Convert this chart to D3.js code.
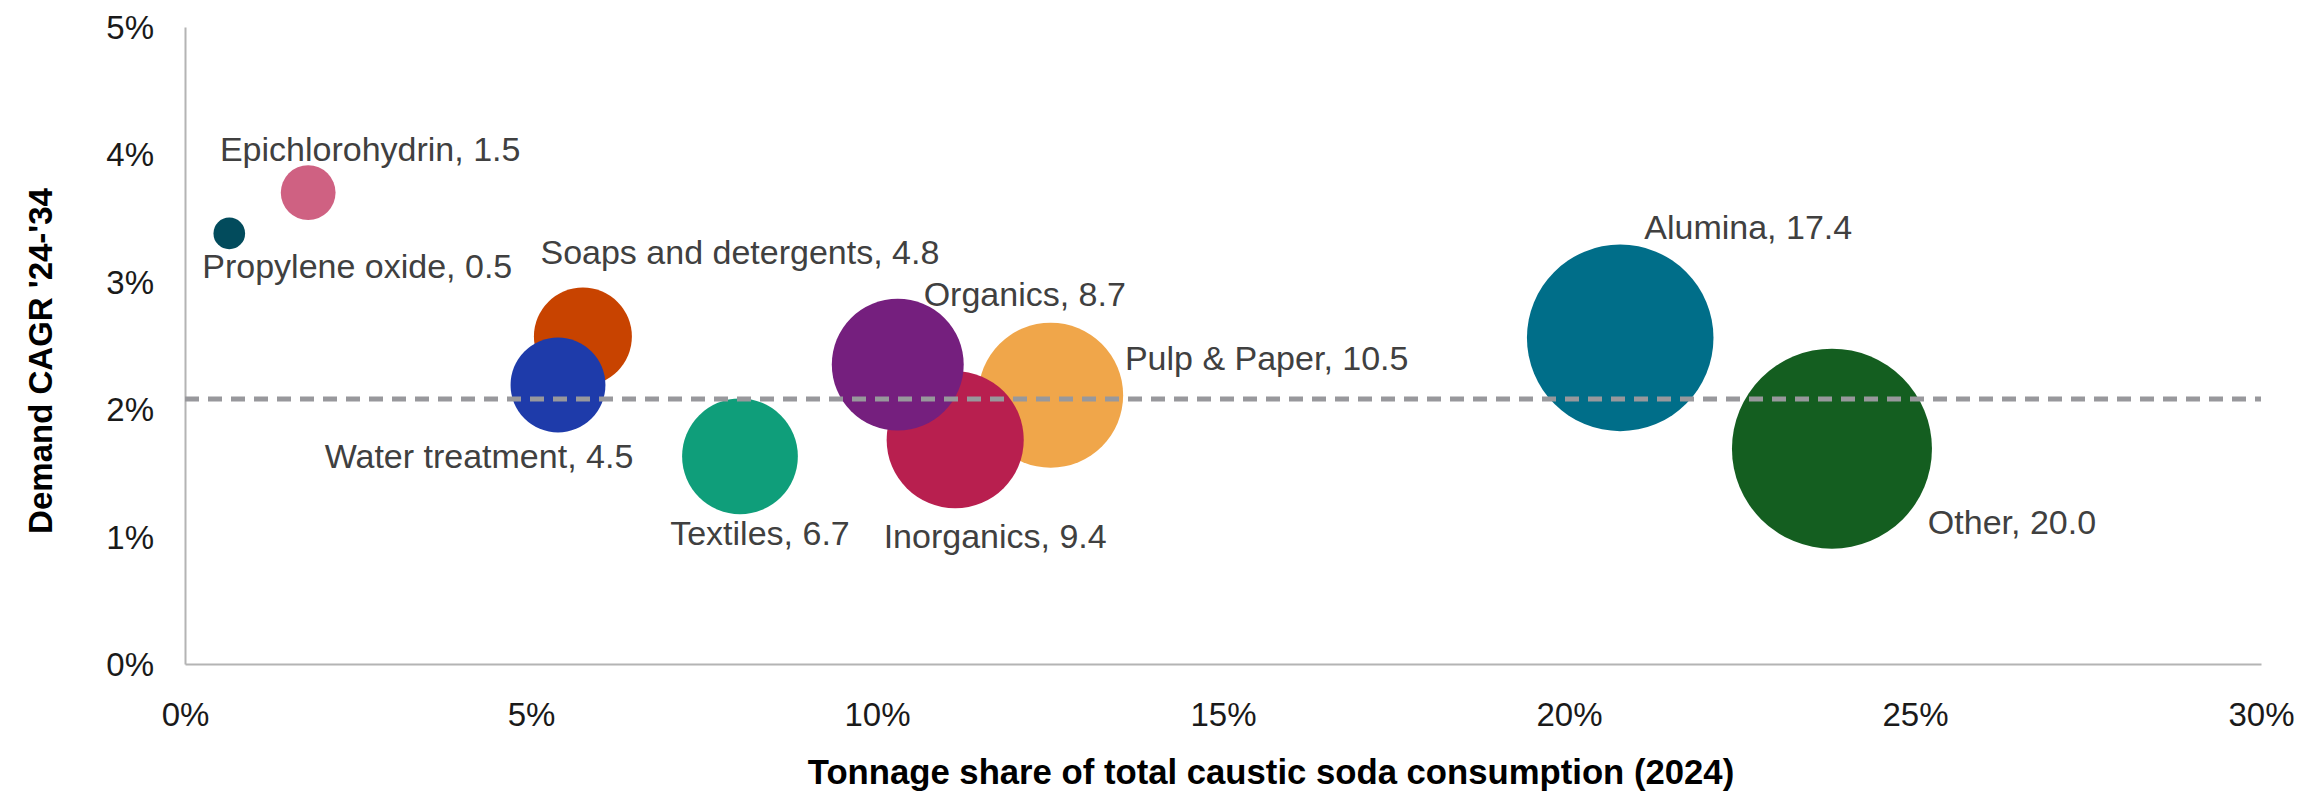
<!DOCTYPE html>
<html>
<head>
<meta charset="utf-8">
<script src="https://cdn.jsdelivr.net/npm/d3@7"></script>
<style>
  html, body { margin: 0; padding: 0; background: #ffffff; }
  svg { display: block; font-family: "Liberation Sans", Arial, sans-serif; }
</style>
</head>
<body>
<svg id="chart" width="2320" height="795"></svg>
<script>
// End uses of caustic soda: share of 2024 tonnage vs. demand growth 2024-34
const segments   = ["Other", "Alumina", "Pulp & Paper", "Inorganics", "Organics", "Textiles", "Soaps and detergents", "Water treatment", "Epichlorohydrin", "Propylene oxide"];
const shareX     = [23.80, 20.74, 12.51, 11.13, 10.30, 8.02, 5.75, 5.39, 1.78, 0.64];   // % of total consumption
const cagrY      = [1.69, 2.56, 2.11, 1.76, 2.35, 1.63, 2.57, 2.19, 3.70, 3.38];        // % per year
const bubbleSize = [20.0, 17.4, 10.5, 9.4, 8.7, 6.7, 4.8, 4.5, 1.5, 0.5];
const colors     = ["#145e20", "#006e89", "#f0a64a", "#b81f4f", "#751f7e", "#0f9e7a", "#c84300", "#1e3baa", "#cf6182", "#024b5c"];
const averageCagr = 2.08;

const xTicks = [0, 5, 10, 15, 20, 25, 30];
const yTicks = [0, 1, 2, 3, 4, 5];

// label placement relative to each bubble centre (px)
const labelDx = [180, 128, 216, 40, 127, 20, 157, -79, 62, 128];
const labelDy = [73, -111, -37, 96, -71, 77, -85, 71, -44, 33];

const svg = d3.select("#chart");
const x = d3.scaleLinear().domain([0, 30]).range([185, 2261]);
const y = d3.scaleLinear().domain([0, 5]).range([664, 27]);
const r = d3.scaleSqrt().domain([0, 20]).range([0, 100]);

// axes
const xAxis = svg.append("g").attr("transform", `translate(0,${y(0)})`)
  .call(d3.axisBottom(x).tickValues(xTicks).tickSize(0).tickPadding(39).tickFormat(d => d + "%"));
const yAxis = svg.append("g").attr("transform", `translate(${x(0)},0)`)
  .call(d3.axisLeft(y).tickValues(yTicks).tickSize(0).tickPadding(31).tickFormat(d => d + "%"));
[xAxis, yAxis].forEach(g => {
  g.select(".domain").attr("stroke", "#b4b4b4").attr("stroke-width", 2);
  g.selectAll("text").attr("font-size", 33).attr("fill", "#1a1a1a")
    .attr("font-family", "'Liberation Sans', Arial, sans-serif");
});
yAxis.selectAll("text").attr("dy", "0.35em");

// bubbles, largest drawn first
const data = segments.map((s, i) => ({ s, x: shareX[i], y: cagrY[i], v: bubbleSize[i], c: colors[i], dx: labelDx[i], dy: labelDy[i] }));
svg.append("g").selectAll("circle").data(data).join("circle")
  .attr("cx", d => x(d.x)).attr("cy", d => y(d.y)).attr("r", d => r(d.v))
  .attr("fill", d => d.c);

// average growth reference line
svg.append("line")
  .attr("x1", x(0)).attr("x2", x(30))
  .attr("y1", y(averageCagr)).attr("y2", y(averageCagr))
  .attr("stroke", "#98989c").attr("stroke-width", 5).attr("stroke-dasharray", "14 9");

// data labels
svg.append("g").selectAll("text").data(data).join("text")
  .attr("x", d => x(d.x) + d.dx).attr("y", d => y(d.y) + d.dy)
  .attr("text-anchor", "middle").attr("dominant-baseline", "central")
  .attr("font-size", 34).attr("fill", "#404040")
  .text(d => `${d.s}, ${d.v.toFixed(1)}`);

// axis titles
svg.append("text").attr("x", 1271).attr("y", 772)
  .attr("text-anchor", "middle").attr("dominant-baseline", "central")
  .attr("font-size", 34.7).attr("font-weight", "bold").attr("fill", "#000")
  .text("Tonnage share of total caustic soda consumption (2024)");
svg.append("text").attr("transform", "translate(40,361) rotate(-90)")
  .attr("text-anchor", "middle").attr("dominant-baseline", "central")
  .attr("font-size", 33).attr("font-weight", "bold").attr("fill", "#000")
  .text("Demand CAGR '24-'34");
</script>
</body>
</html>
